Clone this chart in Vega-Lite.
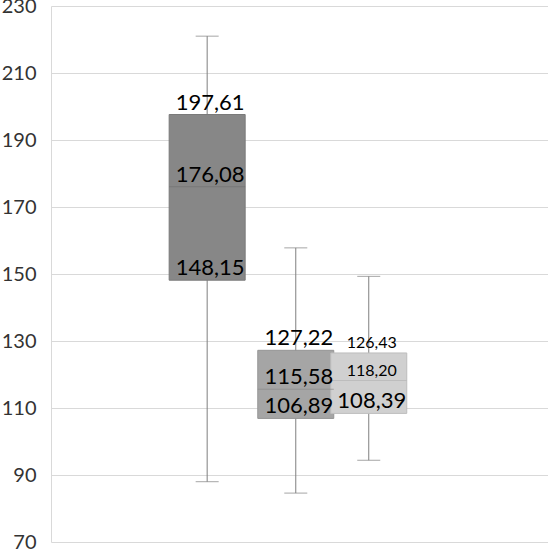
{
  "$schema": "https://vega.github.io/schema/vega-lite/v6.json",
  "autosize": {"type": "none"},
  "padding": {"left": 51, "top": 6, "right": 0, "bottom": 8},
  "width": 497,
  "height": 536,
  "config": {
    "view": {"stroke": null},
    "font": "Lato",
    "locale": {"number": {"decimal": ",", "thousands": ".", "grouping": [3], "currency": ["", ""]}}
  },
  "data": {
    "values": [
      {"box": "A", "pos": 2.03, "min": 221.0, "q1": 148.15, "median": 176.08, "q3": 197.61, "max": 88.0},
      {"box": "B", "pos": 3.22, "min": 157.8, "q1": 106.89, "median": 115.58, "q3": 127.22, "max": 84.6},
      {"box": "C", "pos": 4.2, "min": 149.3, "q1": 108.39, "median": 118.20, "q3": 126.43, "max": 94.4}
    ]
  },
  "encoding": {
    "x": {"field": "pos", "type": "quantitative", "scale": {"domain": [0, 6.54], "nice": false, "zero": false}, "axis": null}
  },
  "layer": [
    {
      "mark": {"type": "rule", "color": "#7f7f7f", "strokeWidth": 1},
      "encoding": {
        "y": {"field": "min", "type": "quantitative", "scale": {"domain": [70, 230], "nice": false, "zero": false},
          "axis": {"values": [70, 90, 110, 130, 150, 170, 190, 210, 230], "title": null, "ticks": false, "labelPadding": 15,
            "labelFontSize": 20, "labelColor": "#333333", "labelFont": "Lato", "gridColor": "#d9d9d9", "domainColor": "#d9d9d9", "labelBaseline": "middle"}},
        "y2": {"field": "max"}
      }
    },
    {
      "mark": {"type": "bar", "orient": "vertical", "size": 76, "strokeWidth": 1},
      "encoding": {
        "y": {"field": "q1", "type": "quantitative"},
        "y2": {"field": "q3"},
        "fill": {"field": "box", "type": "nominal", "scale": {"domain": ["A", "B", "C"], "range": ["#878787", "#a5a5a5", "#d0d0d0"]}, "legend": null},
        "stroke": {"field": "box", "type": "nominal", "scale": {"domain": ["A", "B", "C"], "range": ["#7a7a7a", "#959595", "#bdbdbd"]}, "legend": null}
      }
    },
    {
      "mark": {"type": "tick", "orient": "horizontal", "size": 76, "thickness": 1},
      "encoding": {
        "y": {"field": "median", "type": "quantitative"},
        "color": {"field": "box", "type": "nominal", "scale": {"domain": ["A", "B", "C"], "range": ["#707070", "#8c8c8c", "#b5b5b5"]}, "legend": null}
      }
    },
    {
      "mark": {"type": "tick", "orient": "horizontal", "size": 23, "thickness": 1, "color": "#7f7f7f"},
      "encoding": {"y": {"field": "min", "type": "quantitative"}}
    },
    {
      "mark": {"type": "tick", "orient": "horizontal", "size": 23, "thickness": 1, "color": "#7f7f7f"},
      "encoding": {"y": {"field": "max", "type": "quantitative"}}
    },
    {
      "transform": [{"fold": ["q1", "median", "q3"], "as": ["kind", "value"]}],
      "mark": {"type": "text", "baseline": "alphabetic", "align": "center", "dy": -5, "dx": 3, "color": "#000000", "font": "Lato"},
      "encoding": {
        "y": {"field": "value", "type": "quantitative"},
        "text": {"field": "value", "type": "quantitative", "format": ".2f"},
        "size": {"condition": {"test": "datum.box == 'C' && datum.kind != 'q1'", "value": 16}, "value": 22}
      }
    }
  ]
}
